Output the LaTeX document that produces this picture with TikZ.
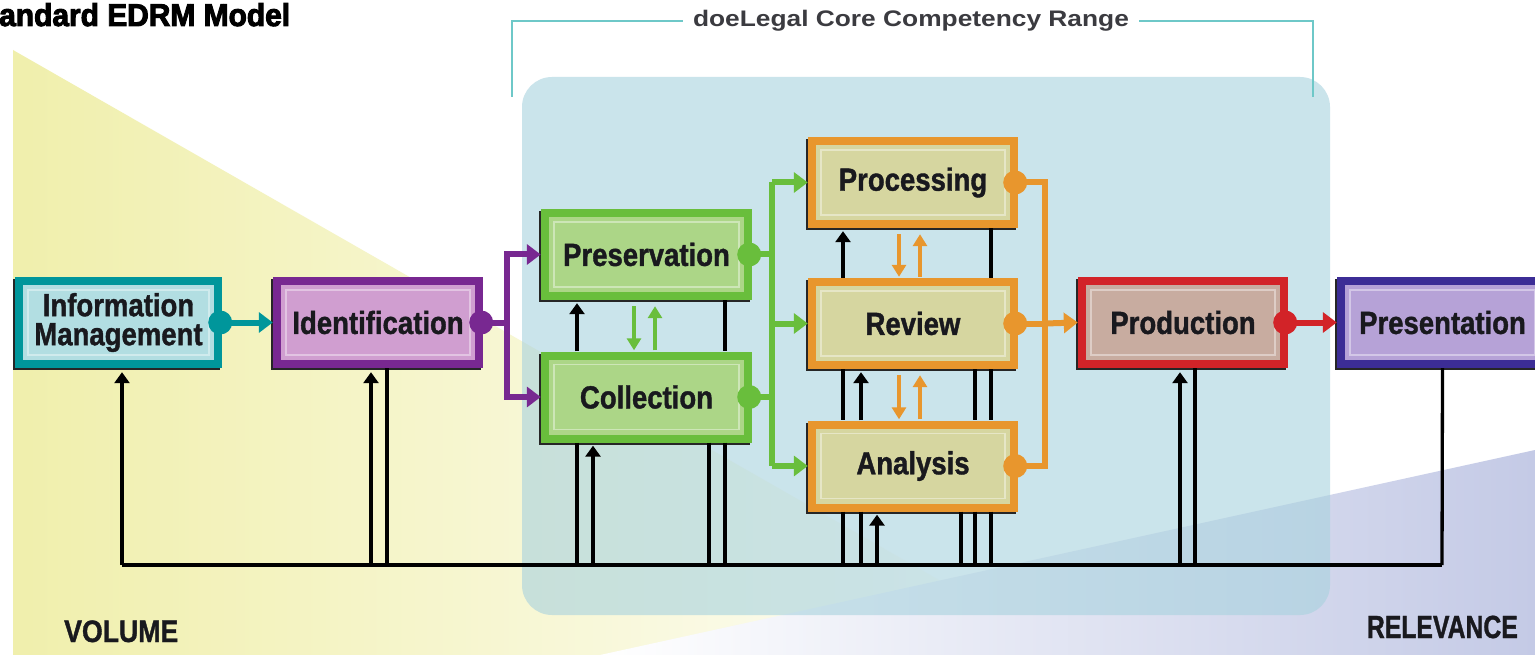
\documentclass[tikz,border=0pt]{standalone}
\usepackage{fontspec}
\setmainfont{Liberation Sans}
\newfontfamily\labfont[FakeStretch=0.86,FakeBold=1.2]{Liberation Sans}
\newfontfamily\titfont[FakeStretch=0.95,FakeBold=3]{Liberation Sans}
\newfontfamily\rngfont[FakeStretch=1.17]{Liberation Sans}
\usetikzlibrary{arrows.meta}
\definecolor{yel}{RGB}{240,239,172}
\definecolor{lav}{RGB}{196,202,230}
\definecolor{boxblue}{RGB}{168,210,222}
\definecolor{brk}{RGB}{110,200,200}
\definecolor{cteal}{RGB}{0,150,155}\definecolor{fteal}{RGB}{178,222,226}
\definecolor{cpur}{RGB}{120,40,145}\definecolor{fpur}{RGB}{208,158,208}
\definecolor{cgreen}{RGB}{105,190,60}\definecolor{fgreen}{RGB}{172,214,135}
\definecolor{corange}{RGB}{232,150,45}\definecolor{forange}{RGB}{214,214,160}
\definecolor{cred}{RGB}{210,35,40}\definecolor{fred}{RGB}{200,172,160}
\definecolor{cind}{RGB}{60,45,150}\definecolor{find}{RGB}{182,162,215}
\definecolor{txt}{RGB}{25,25,30}
\tikzset{
  edbox/.style 2 args={rectangle, inner sep=0pt, minimum width=211pt, minimum height=91pt,
    fill=#1, preaction={fill=black!85, transform canvas={shift={(-2pt,-2pt)}}},
    path picture={
      \fill[#2] ([shift={(8pt,-8pt)}]path picture bounding box.north west) rectangle ([shift={(-8pt,8pt)}]path picture bounding box.south east);
      \draw[white, opacity=.4, line width=1.3pt] ([shift={(13pt,-13pt)}]path picture bounding box.north west) rectangle ([shift={(-13pt,13pt)}]path picture bounding box.south east);
    },
    text=txt, align=center, font=\labfont\bfseries\fontsize{32}{29}\selectfont},
  conn/.style={line width=6pt, draw=#1, -{Triangle[width=20pt,length=14pt]}},
  cline/.style={line width=6pt, draw=#1},
  bia/.style={line width=4pt, draw=#1, -{Triangle[width=14pt,length=12pt]}},
  fb/.style={line width=3.3pt, draw=black},
  fba/.style={fb, -{Triangle[width=15pt,length=11pt]}},
  brkline/.style={line width=1.6pt, draw=brk},
}
\begin{document}
\begin{tikzpicture}[x=1pt,y=-1pt]
\useasboundingbox (0,0) rectangle (1535,655);
\clip (0,0) rectangle (1535,655);
\fill[white] (0,0) rectangle (1535,655);
% background triangles
\shade[left color=yel, right color=white] (13,50) -- (13,655) -- (1070,655) -- cycle;
\shade[left color=white, right color=lav] (600,655) -- (1535,450) -- (1535,655) -- cycle;
% core competency panel
\fill[boxblue, opacity=.6, rounded corners=30pt] (522,77) rectangle (1330,615);
% title and labels
\node[anchor=base west, font=\titfont\bfseries\fontsize{31.5}{30}\selectfont, text=black, inner sep=0pt] (title) at (-1,26) {andard EDRM Model};
\node[anchor=base west, font=\labfont\bfseries\fontsize{31}{31}\selectfont, text=txt, inner sep=0pt] (vol) at (64,642) {VOLUME};
\node[anchor=base east, font=\labfont\bfseries\fontsize{32}{32}\selectfont, text=txt, inner sep=0pt] (rel) at (1518,638) {\scalebox{0.9}[1]{RELEVANCE}};
% bracket
\node[font=\rngfont\bfseries\fontsize{22.5}{24}\selectfont, text=txt!85, inner sep=10pt] (rng) at (911,21) {doeLegal Core Competency Range};
\coordinate (brl) at (512,97);
\coordinate (brr) at (1313,97);
\draw[brkline] (rng.west) -| (brl);
\draw[brkline] (rng.east) -| (brr);
% boxes
\node[edbox={cteal}{fteal}, minimum width=207pt] (info) at (118.5,322.5) {Information\\Management};
\node[edbox={cpur}{fpur}, minimum width=210pt] (ident) at (378,322.5) {Identification};
\node[edbox={cgreen}{fgreen}] (pres) at (646.5,254.5) {Preservation};
\node[edbox={cgreen}{fgreen}] (coll) at (646.5,397) {Collection};
\node[edbox={corange}{forange}, minimum width=210pt] (proc) at (913,182.5) {Processing};
\node[edbox={corange}{forange}, minimum width=210pt] (rev) at (913,323.5) {Review};
\node[edbox={corange}{forange}, minimum width=210pt] (anal) at (913,466) {Analysis};
\node[edbox={cred}{fred}, minimum width=210pt] (prod) at (1183,322.5) {Production};
\node[edbox={cind}{find}] (prsn) at (1442.5,322.5) {Presentation};
% feedback bus
\coordinate (bl) at (122,565);
\coordinate (br) at (1442,565);
\draw[fb] (bl) -- (br);
\foreach \x in {371,387,577,593,709,725,843,861,877,961,975,991,1180,1195}{\coordinate (v\x) at (\x,565);}
\draw[fba] (bl) -- ([yshift=-4pt]bl |- info.south);
\draw[fba] (v371) -- ([yshift=-4pt]v371 |- ident.south);
\draw[fb] (v387 |- ident.south) -- (v387);
\draw[fb] (v577 |- coll.south) -- (v577);
\draw[fba] (v577 |- coll.north) -- ([yshift=-3pt]v577 |- pres.south);
\draw[fba] (v593) -- ([yshift=-3pt]v593 |- coll.south);
\draw[fb] (v709 |- coll.south) -- (v709);
\draw[fb] (v725 |- coll.south) -- (v725);
\draw[fb] (v725 |- pres.south) -- (v725 |- coll.north);
\draw[fb] (v843 |- anal.south) -- (v843);
\draw[fb] (v843 |- rev.south) -- (v843 |- anal.north);
\draw[fba] (v843 |- rev.north) -- ([yshift=-3pt]v843 |- proc.south);
\draw[fb] (v861 |- anal.south) -- (v861);
\draw[fba] (v861 |- anal.north) -- ([yshift=-3pt]v861 |- rev.south);
\draw[fba] (v877) -- ([yshift=-3pt]v877 |- anal.south);
\draw[fb] (v961 |- anal.south) -- (v961);
\draw[fb] (v975 |- anal.south) -- (v975);
\draw[fb] (v975 |- rev.south) -- (v975 |- anal.north);
\draw[fb] (v991 |- anal.south) -- (v991);
\draw[fb] (v991 |- rev.south) -- (v991 |- anal.north);
\draw[fb] (v991 |- proc.south) -- (v991 |- rev.north);
\draw[fba] (v1180) -- ([yshift=-4pt]v1180 |- prod.south);
\draw[fb] (v1195 |- prod.south) -- (v1195);
\draw[fb] (prsn.south) -- (br);
% coloured flow
\draw[conn=cteal] (info.east) -- (ident.west);
\coordinate (pj) at (507,322.5);
\draw[cline=cpur] (ident.east) -- (pj);
\draw[conn=cpur] (pj) |- (pres.west);
\draw[conn=cpur] (pj) |- (coll.west);
\coordinate (gj) at (772,0);
\draw[cline=cgreen] (pres.east) -- (gj |- pres.east);
\draw[cline=cgreen] (coll.east) -- (gj |- coll.east);
\draw[cline=cgreen] (gj |- proc.west) -- (gj |- anal.west);
\draw[conn=cgreen] (gj |- proc.west) -- (proc.west);
\draw[conn=cgreen] (gj |- rev.west) -- (rev.west);
\draw[conn=cgreen] (gj |- anal.west) -- (anal.west);
\coordinate (oj) at (1045,0);
\draw[cline=corange] (proc.east) -| (oj |- anal.east) -- (anal.east);
\draw[cline=corange] (rev.east) -- (oj |- rev.east);
\draw[conn=corange] (oj |- rev.east) -- (prod.west);
\draw[conn=cred] (prod.east) -- (prsn.west);
% bidirectional arrows
\coordinate (g1) at (634,0);
\coordinate (g2) at (655,0);
\coordinate (o1) at (899,0);
\coordinate (o2) at (920,0);
\draw[bia=cgreen, shorten <=6pt, shorten >=1pt] (g1 |- pres.south) -- (g1 |- coll.north);
\draw[bia=cgreen, shorten <=1pt, shorten >=6pt] (g2 |- coll.north) -- (g2 |- pres.south);
\draw[bia=corange, shorten <=6pt, shorten >=1pt] (o1 |- proc.south) -- (o1 |- rev.north);
\draw[bia=corange, shorten <=1pt, shorten >=6pt] (o2 |- rev.north) -- (o2 |- proc.south);
\draw[bia=corange, shorten <=6pt, shorten >=1pt] (o1 |- rev.south) -- (o1 |- anal.north);
\draw[bia=corange, shorten <=1pt, shorten >=6pt] (o2 |- anal.north) -- (o2 |- rev.south);
% connector dots
\fill[cteal] ([xshift=-2pt]info.east) circle (12pt);
\fill[cpur] ([xshift=-2pt]ident.east) circle (12pt);
\fill[cgreen] ([xshift=-3pt]pres.east) circle (12pt);
\fill[cgreen] ([xshift=-3pt]coll.east) circle (12pt);
\fill[corange] ([xshift=-3pt]proc.east) circle (12pt);
\fill[corange] ([xshift=-3pt]rev.east) circle (12pt);
\fill[corange] ([xshift=-3pt]anal.east) circle (12pt);
\fill[cred] ([xshift=-3pt]prod.east) circle (12pt);
\end{tikzpicture}
\end{document}
